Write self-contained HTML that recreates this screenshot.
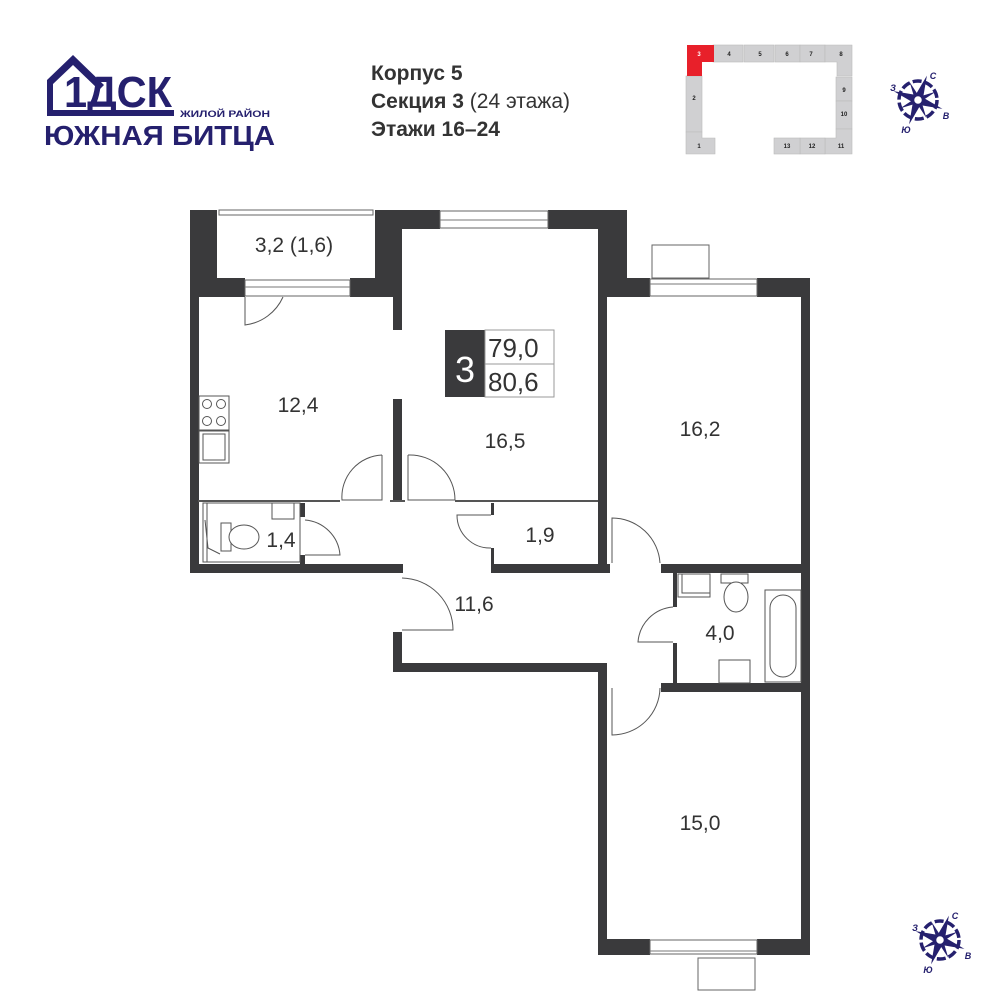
<!DOCTYPE html>
<html><head><meta charset="utf-8"><style>
html,body{margin:0;padding:0;background:#fff;}
svg{display:block;}
</style></head><body>
<svg width="1001" height="1001" viewBox="0 0 1001 1001" xmlns="http://www.w3.org/2000/svg" font-family="Liberation Sans, DejaVu Sans, sans-serif">
<rect width="1001" height="1001" fill="#fff"/>
<!-- Logo -->
<g fill="#25206e">
<path d="M47,116 L47,80 L73,55 L104,85 L99,90 L73,65 L53,84 L53,110 L174,110 L174,116 Z"/>
<text x="64" y="107" font-size="44" font-weight="bold" textLength="108" lengthAdjust="spacingAndGlyphs">1ДСК</text>
<text x="180" y="117" font-size="9.5" font-weight="bold" textLength="90" lengthAdjust="spacingAndGlyphs">ЖИЛОЙ РАЙОН</text>
<text x="44" y="145" font-size="28" font-weight="bold" textLength="231" lengthAdjust="spacingAndGlyphs">ЮЖНАЯ БИТЦА</text>
</g>
<g fill="#333" font-size="21">
<text x="371" y="80" font-weight="bold">Корпус 5</text>
<text x="371" y="108"><tspan font-weight="bold">Секция 3</tspan> (24 этажа)</text>
<text x="371" y="136" font-weight="bold">Этажи 16–24</text>
</g>
<!-- Minimap -->
<g fill="#d0d0d2" stroke="#bbb" stroke-width="0.6">
<rect x="713" y="45" width="30" height="17"/>
<rect x="744" y="45" width="30" height="17"/>
<rect x="775" y="45" width="25" height="17"/>
<rect x="800" y="45" width="25" height="17"/>
<path d="M825,45 L852,45 L852,76 L837,76 L837,62 L825,62 Z"/>
<rect x="836" y="77" width="16" height="24"/>
<rect x="836" y="101" width="16" height="28"/>
<path d="M836,129 L852,129 L852,154 L825,154 L825,138 L836,138 Z"/>
<rect x="800" y="138" width="25" height="16"/>
<rect x="774" y="138" width="26" height="16"/>
<rect x="686" y="76" width="16" height="56"/>
<path d="M686,132 L702,132 L702,138 L715,138 L715,154 L686,154 Z"/>
</g>
<path d="M687,45 L714,45 L714,62 L702,62 L702,76 L687,76 Z" fill="#e8202a"/>
<g font-size="6" font-weight="bold" fill="#222" text-anchor="middle">
<text x="699" y="56" fill="#fff">3</text><text x="729" y="56">4</text><text x="760" y="56">5</text><text x="787" y="56">6</text><text x="811" y="56">7</text><text x="841" y="56">8</text>
<text x="844" y="92">9</text><text x="844" y="116">10</text><text x="841" y="148">11</text><text x="812" y="148">12</text><text x="787" y="148">13</text>
<text x="694" y="100">2</text><text x="699" y="148">1</text>
</g>
<!-- Compasses -->
<g fill="#25206e" transform="translate(918,100)">
<circle r="19" fill="none" stroke="#25206e" stroke-width="3.5" stroke-dasharray="9 3"/>
<g transform="rotate(20)">
<path d="M0,-26 L4,-4 L0,0 L-4,-4Z M0,26 L4,4 L0,0 L-4,4Z M-26,0 L-4,-4 L0,0 L-4,4Z M26,0 L4,-4 L0,0 L4,4Z"/>
<path d="M-14,-14 L2,-2 L-2,2Z M14,14 L-2,2 L2,-2Z M14,-14 L2,2 L-2,-2Z M-14,14 L-2,-2 L2,2Z"/>
</g>
<circle r="5" fill="#fff" stroke="#25206e" stroke-width="2.5"/>
<g font-size="9" font-weight="bold" font-style="italic" text-anchor="middle">
<text x="15" y="-21">С</text><text x="-25" y="-9">З</text><text x="28" y="19">В</text><text x="-12" y="33">Ю</text>
</g>
</g>
<g fill="#25206e" transform="translate(940,940)">
<circle r="19" fill="none" stroke="#25206e" stroke-width="3.5" stroke-dasharray="9 3"/>
<g transform="rotate(20)">
<path d="M0,-26 L4,-4 L0,0 L-4,-4Z M0,26 L4,4 L0,0 L-4,4Z M-26,0 L-4,-4 L0,0 L-4,4Z M26,0 L4,-4 L0,0 L4,4Z"/>
<path d="M-14,-14 L2,-2 L-2,2Z M14,14 L-2,2 L2,-2Z M14,-14 L2,2 L-2,-2Z M-14,14 L-2,-2 L2,2Z"/>
</g>
<circle r="5" fill="#fff" stroke="#25206e" stroke-width="2.5"/>
<g font-size="9" font-weight="bold" font-style="italic" text-anchor="middle">
<text x="15" y="-21">С</text><text x="-25" y="-9">З</text><text x="28" y="19">В</text><text x="-12" y="33">Ю</text>
</g>
</g>
<!-- Walls -->
<g fill="#3a3a3c">
<rect x="190" y="210" width="27" height="87"/>
<rect x="190" y="210" width="9" height="363"/>
<rect x="190" y="278" width="55" height="19"/>
<rect x="350" y="278" width="52" height="19"/>
<rect x="375" y="210" width="27" height="87"/>
<rect x="402" y="210" width="38" height="19"/>
<rect x="548" y="210" width="79" height="19"/>
<rect x="607" y="210" width="20" height="87"/>
<rect x="598" y="225" width="9" height="348"/>
<rect x="598" y="278" width="52" height="19"/>
<rect x="757" y="278" width="53" height="19"/>
<rect x="801" y="278" width="9" height="290"/>
<rect x="393" y="297" width="9" height="33"/>
<rect x="393" y="399" width="9" height="103"/>
<rect x="190" y="564" width="212" height="9"/>
<rect x="380" y="564" width="23" height="9"/>
<rect x="491" y="564" width="119" height="9"/>
<rect x="491" y="548" width="3" height="20"/>
<rect x="491" y="503" width="3" height="12"/>
<rect x="661" y="564" width="149" height="9"/>
<rect x="801" y="564" width="9" height="391"/>
<rect x="393" y="632" width="9" height="40"/>
<rect x="393" y="663" width="214" height="9"/>
<rect x="598" y="663" width="9" height="292"/>
<rect x="673" y="573" width="4" height="34"/>
<rect x="673" y="643" width="4" height="45"/>
<rect x="661" y="683" width="149" height="9"/>
<rect x="598" y="939" width="52" height="16"/>
<rect x="757" y="939" width="53" height="16"/>
<rect x="300" y="503" width="5" height="14"/>
<rect x="300" y="555" width="5" height="9"/>
</g>
<!-- thin partitions -->
<g stroke="#555" stroke-width="2" fill="none">
<line x1="198" y1="501" x2="340" y2="501"/>
<line x1="455" y1="501" x2="598" y2="501"/>
<line x1="390" y1="501" x2="405" y2="501"/>
</g>
<!-- windows -->
<g fill="#fff" stroke="#666" stroke-width="1">
<rect x="219" y="210" width="154" height="5"/>
<rect x="440" y="211" width="108" height="17"/>
<rect x="245" y="280" width="105" height="16"/>
<rect x="650" y="279" width="107" height="17"/>
<rect x="652" y="245" width="57" height="33"/>
<rect x="650" y="940" width="107" height="14"/>
<rect x="698" y="958" width="57" height="32"/>
</g>
<g stroke="#777" stroke-width="1" fill="none">
<line x1="440" y1="220" x2="548" y2="220"/>
<line x1="245" y1="287" x2="350" y2="287"/>
<line x1="650" y1="284" x2="757" y2="284"/>
<line x1="650" y1="951" x2="757" y2="951"/>
</g>
<!-- doors -->
<g stroke="#555" stroke-width="1" fill="none">
<path d="M245,297 L245,325 A48,48 0 0 0 283,297"/>
<path d="M382,455 L382,500 L342,500 A42,42 0 0 1 382,455"/>
<path d="M408,455 L408,500 L455,500 A45,45 0 0 0 408,455"/>
<path d="M305,520 A38,38 0 0 1 340,555 L305,555"/>
<path d="M491,515 L457,515 A33,33 0 0 0 491,548"/>
<path d="M402,578 A52,52 0 0 1 453,630 L402,630"/>
<path d="M612,563 L612,518 A48,48 0 0 1 660,563"/>
<path d="M673,607 A38,38 0 0 0 638,642 L673,642"/>
<path d="M612,688 L612,735 A48,48 0 0 0 660,688"/>
</g>
<!-- fixtures -->
<g stroke="#555" stroke-width="1" fill="#fff">
<rect x="199" y="396" width="30" height="34"/>
<circle cx="207" cy="404" r="4.5"/><circle cx="221" cy="404" r="4.5"/>
<circle cx="207" cy="421" r="4.5"/><circle cx="221" cy="421" r="4.5"/>
<rect x="199" y="431" width="30" height="32"/>
<rect x="203" y="434" width="22" height="26"/>
<rect x="203" y="503" width="97" height="59" fill="none"/>
<rect x="272" y="503" width="22" height="16"/>
<path d="M207,503 L207,562 M205,520 L208,548 L220,554"/>
<rect x="221" y="523" width="10" height="28"/>
<ellipse cx="244" cy="537" rx="15" ry="12"/>
<rect x="678" y="574" width="32" height="23"/>
<rect x="682" y="574" width="28" height="19" fill="none"/>
<rect x="721" y="574" width="27" height="9"/>
<ellipse cx="736" cy="597" rx="12" ry="15"/>
<rect x="765" y="590" width="36" height="92"/>
<rect x="770" y="595" width="26" height="82" rx="13"/>
<rect x="719" y="660" width="31" height="23"/>
</g>
<!-- area box -->
<rect x="445" y="330" width="40" height="67" fill="#3a3a3c"/>
<rect x="485" y="330" width="69" height="67" fill="#fff" stroke="#999" stroke-width="1"/>
<line x1="485" y1="364" x2="554" y2="364" stroke="#999"/>
<text x="465" y="382" font-size="36" fill="#fff" text-anchor="middle">3</text>
<g font-size="26" fill="#333">
<text x="488" y="357">79,0</text><text x="488" y="391">80,6</text>
</g>
<!-- room labels -->
<g font-size="21" fill="#333" text-anchor="middle">
<text x="294" y="252">3,2 (1,6)</text>
<text x="298" y="412">12,4</text>
<text x="505" y="448">16,5</text>
<text x="700" y="436">16,2</text>
<text x="540" y="542">1,9</text>
<text x="281" y="547">1,4</text>
<text x="474" y="611">11,6</text>
<text x="720" y="640">4,0</text>
<text x="700" y="830">15,0</text>
</g>
</svg>
</body></html>
